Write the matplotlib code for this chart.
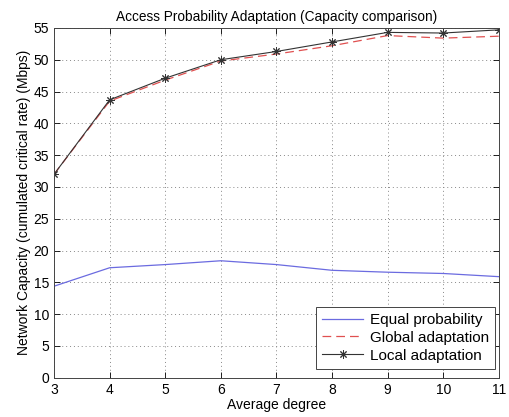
import numpy as np
import matplotlib
matplotlib.use("Agg")
import matplotlib.pyplot as plt

plt.rcParams["font.family"] = ["Liberation Sans", "DejaVu Sans"]

degree = [3, 4, 5, 6, 7, 8, 9, 10, 11]
equal_prob = [14.4, 17.3, 17.8, 18.4, 17.8, 16.9, 16.6, 16.4, 15.9]
global_adapt = [32.0, 43.5, 46.8, 49.8, 50.9, 52.2, 53.8, 53.4, 53.7]
local_adapt = [32.0, 43.7, 47.1, 50.0, 51.3, 52.8, 54.3, 54.2, 54.7]

fig = plt.figure(figsize=(5.1, 4.17), dpi=100)
ax = fig.add_axes([0.106, 0.094, 0.872, 0.839])

ax.plot(degree, equal_prob, color="#6b6be0", linewidth=0.9, label="Equal probability")
ax.plot(degree, global_adapt, color="#e05050", linewidth=0.9, linestyle=(0, (7, 4)),
        label="Global adaptation")
# MATLAB style '*' marker: thin 8-armed asterisk
ax.plot(degree, local_adapt, color="#333333", linewidth=0.8, marker=(8, 2, 0), markersize=6,
        markeredgewidth=0.7, label="Local adaptation")

ax.set_xlim(3, 11)
ax.set_ylim(0, 55)
ax.set_xticks(degree)
ax.set_yticks(np.arange(0, 56, 5))
ax.grid(True, linestyle=(0, (1, 3)), color="#888888", linewidth=0.7)
ax.tick_params(direction="in", top=True, right=True, labelsize=10, length=4, width=0.6)
for s in ax.spines.values():
    s.set_linewidth(0.7)
    s.set_color("#444444")

ax.set_xlabel("Average degree", fontsize=10, labelpad=1)
ax.set_ylabel("Network Capacity (cumulated critical rate) (Mbps)", fontsize=10, labelpad=2)
ax.set_title("Access Probability Adaptation (Capacity comparison)", fontsize=9.8, pad=5)

leg = ax.legend(loc="lower right", bbox_to_anchor=(0.991, 0.026), fontsize=11,
                fancybox=False, framealpha=1, edgecolor="#444444", handlelength=2.7,
                handletextpad=0.4, borderaxespad=0, borderpad=0.4, labelspacing=0.25)
leg.get_frame().set_linewidth(0.7)

fig.savefig("out.png", dpi=100)
